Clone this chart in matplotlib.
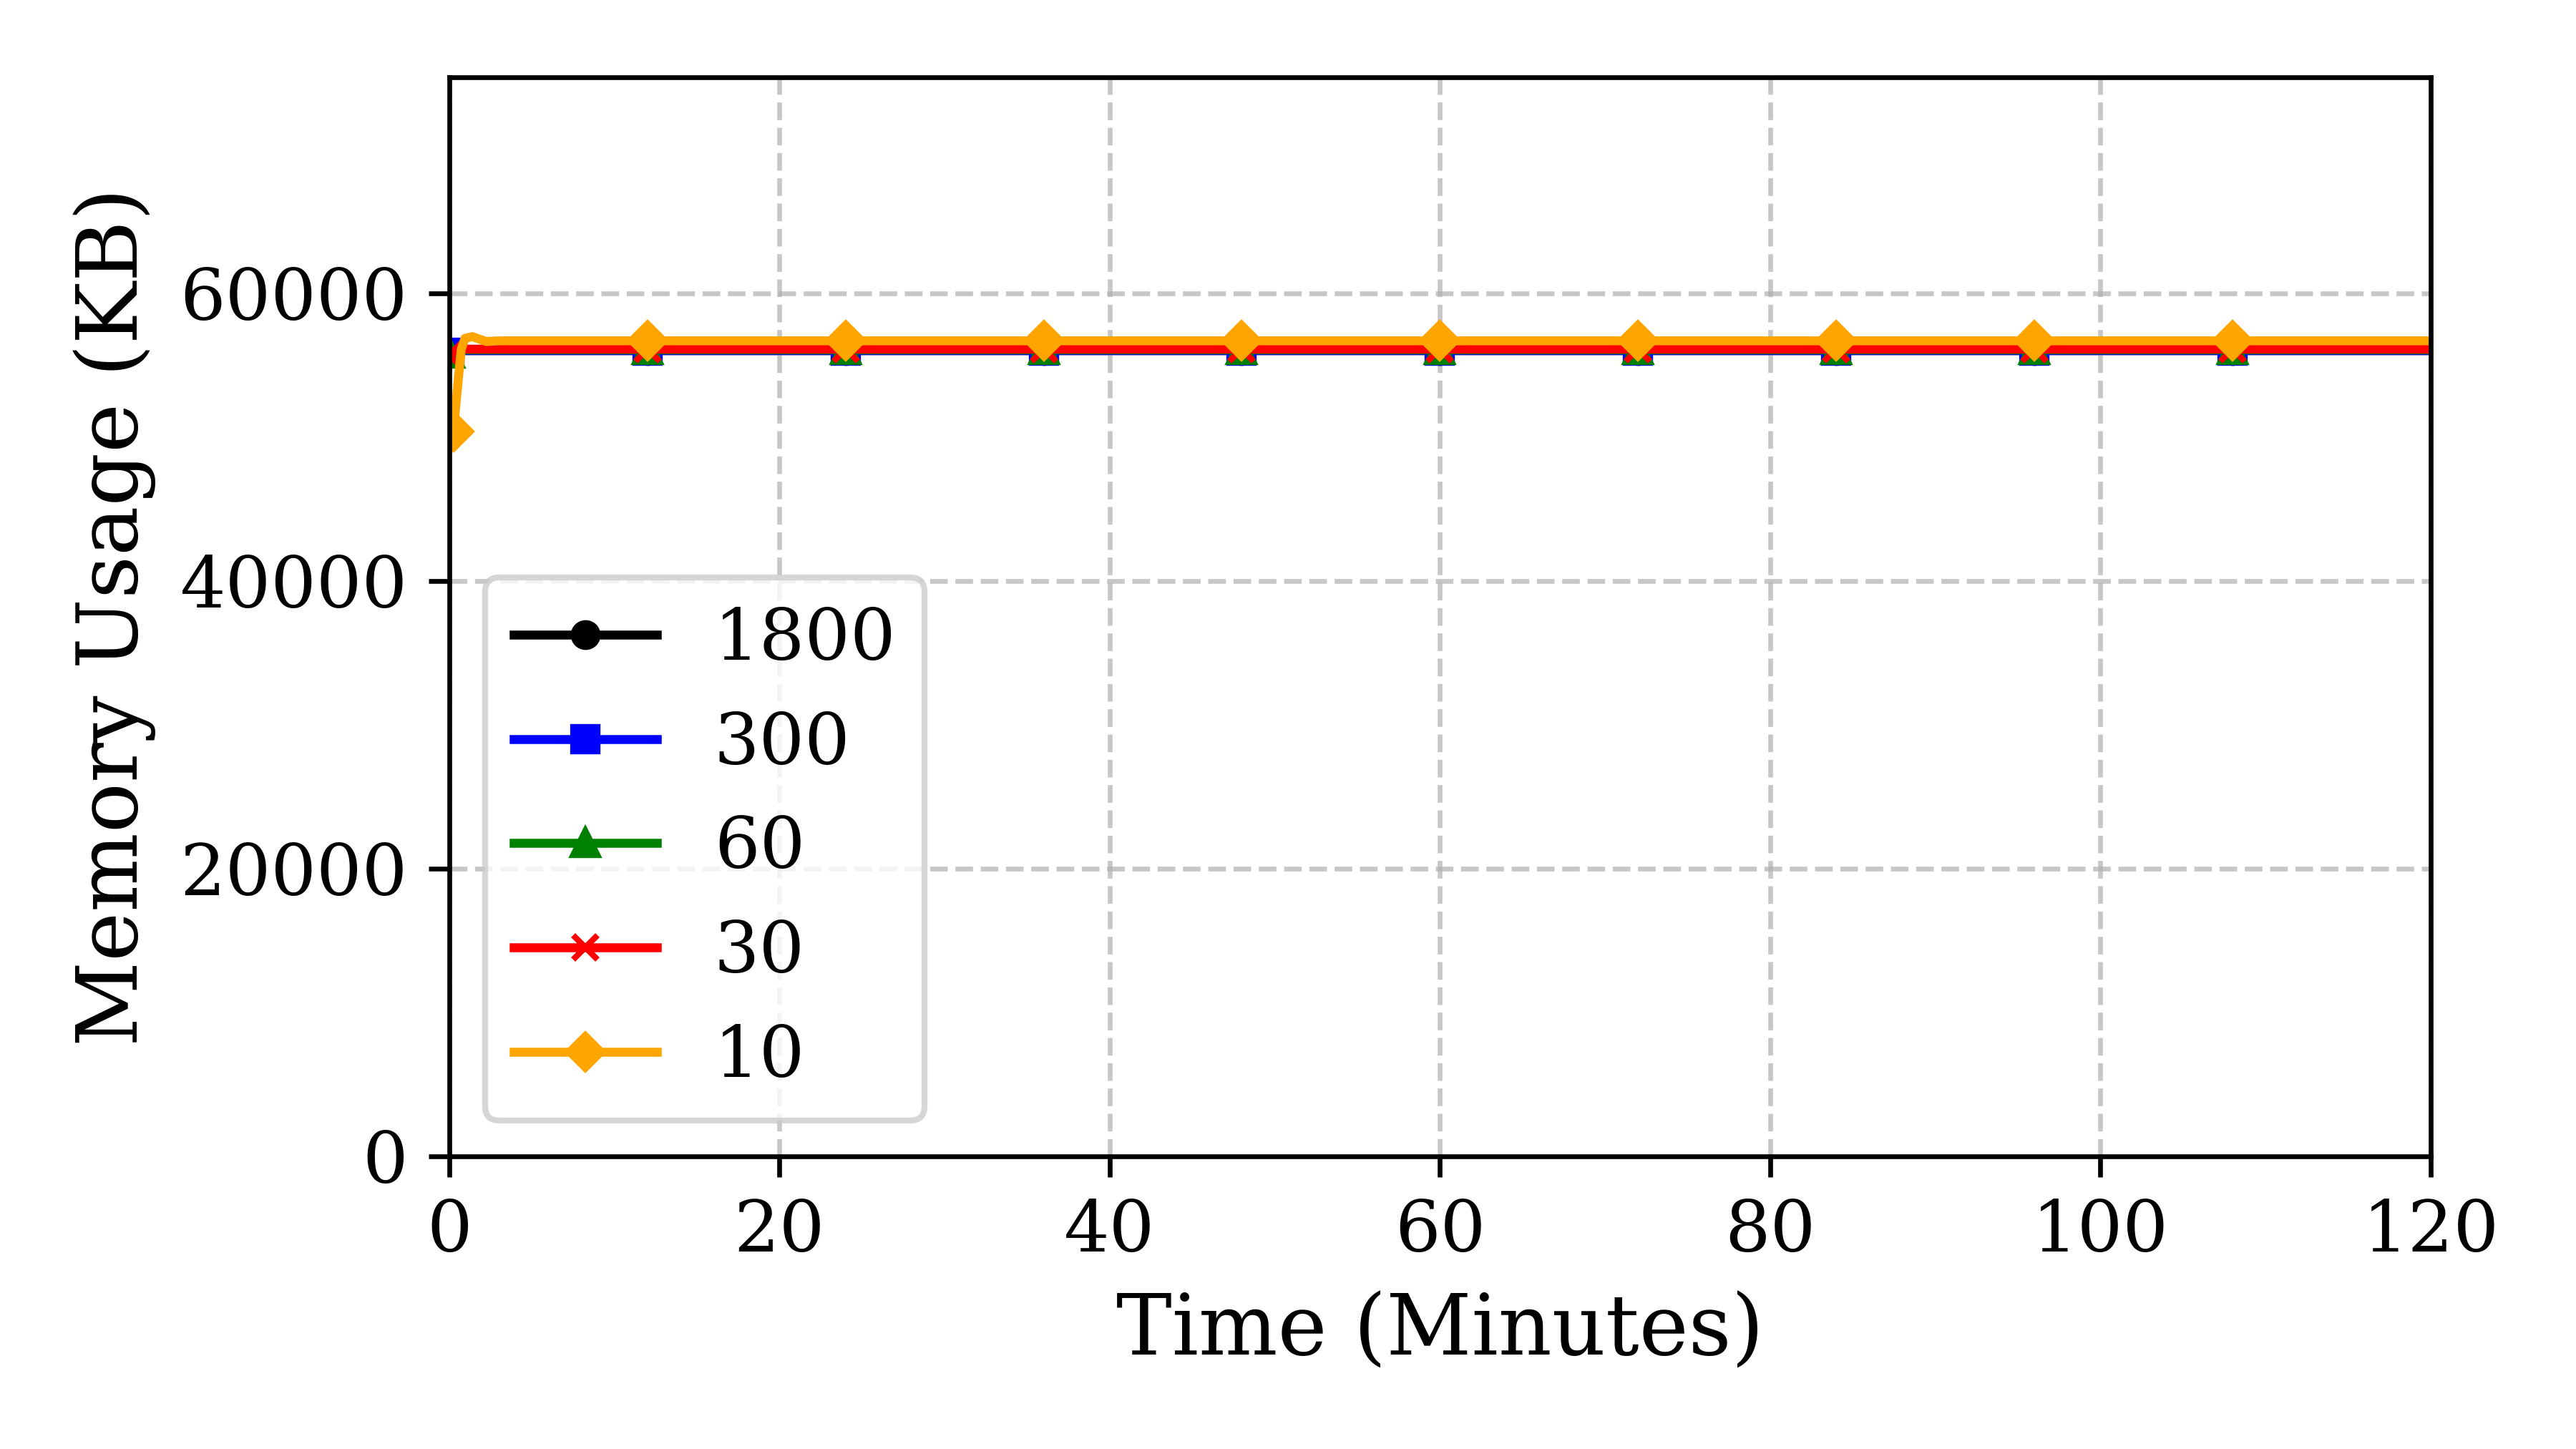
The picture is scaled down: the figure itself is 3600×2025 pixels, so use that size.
import numpy as np
import matplotlib
matplotlib.use("Agg")
import matplotlib.pyplot as plt

plt.rcParams['font.family'] = ['DejaVu Serif']

# ---- data (time in minutes, memory in KB) ----
marker_times = [0, 12, 24, 36, 48, 60, 72, 84, 96, 108]

t_common = [0, 0.5, 12, 24, 36, 48, 60, 72, 84, 96, 108, 120]
mem_1800 = [55900, 56000, 56000, 56000, 56000, 56000, 56000, 56000, 56000, 56000, 56000, 56000]
mem_300 = [55850, 56000, 56000, 56000, 56000, 56000, 56000, 56000, 56000, 56000, 56000, 56000]
mem_60 = [55800, 56050, 56050, 56050, 56050, 56050, 56050, 56050, 56050, 56050, 56050, 56050]
mem_30 = [55700, 56100, 56100, 56100, 56100, 56100, 56100, 56100, 56100, 56100, 56100, 56100]

t_10 = [0.25, 0.38, 0.59, 0.73, 0.95, 1.4, 2.25, 3.0, 12, 24, 36, 48, 60, 72, 84, 96, 108, 120]
mem_10 = [50400, 52000, 54500, 56100, 56850, 56970, 56630, 56680, 56680, 56680, 56680,
          56680, 56680, 56680, 56680, 56680, 56680, 56680]

labels = ['1800', '300', '60', '30', '10']
colors = ['black', 'blue', 'green', 'red', 'orange']
markers = ['o', 's', '^', 'x', 'D']

series = [
    (t_common, mem_1800),
    (t_common, mem_300),
    (t_common, mem_60),
    (t_common, mem_30),
    (t_10, mem_10),
]

fig = plt.figure(figsize=(6, 3.375), dpi=600)
ax = fig.add_axes([0.1744, 0.2020, 0.9436 - 0.1744, 0.9467 - 0.2020])

for (t, m), lab, c, mk in zip(series, labels, colors, markers):
    t = np.asarray(t, dtype=float)
    me = np.isin(t, marker_times)
    me[0] = True
    ax.plot(t, m, color=c, marker=mk, markevery=list(me), label=lab,
            linewidth=1.5, markersize=4)

ax.set_xlim(0, 120)
ax.set_ylim(0, 75000)
ax.set_xticks([0, 20, 40, 60, 80, 100, 120])
ax.set_yticks([0, 20000, 40000, 60000])
ax.tick_params(labelsize=12)
ax.set_xlabel('Time (Minutes)', fontsize=14)
ax.set_ylabel('Memory Usage (KB)', fontsize=14)
ax.grid(True, linestyle='--', alpha=0.7)
ax.legend(loc='lower left', fontsize=12)

fig.savefig('out.png', dpi=600)
